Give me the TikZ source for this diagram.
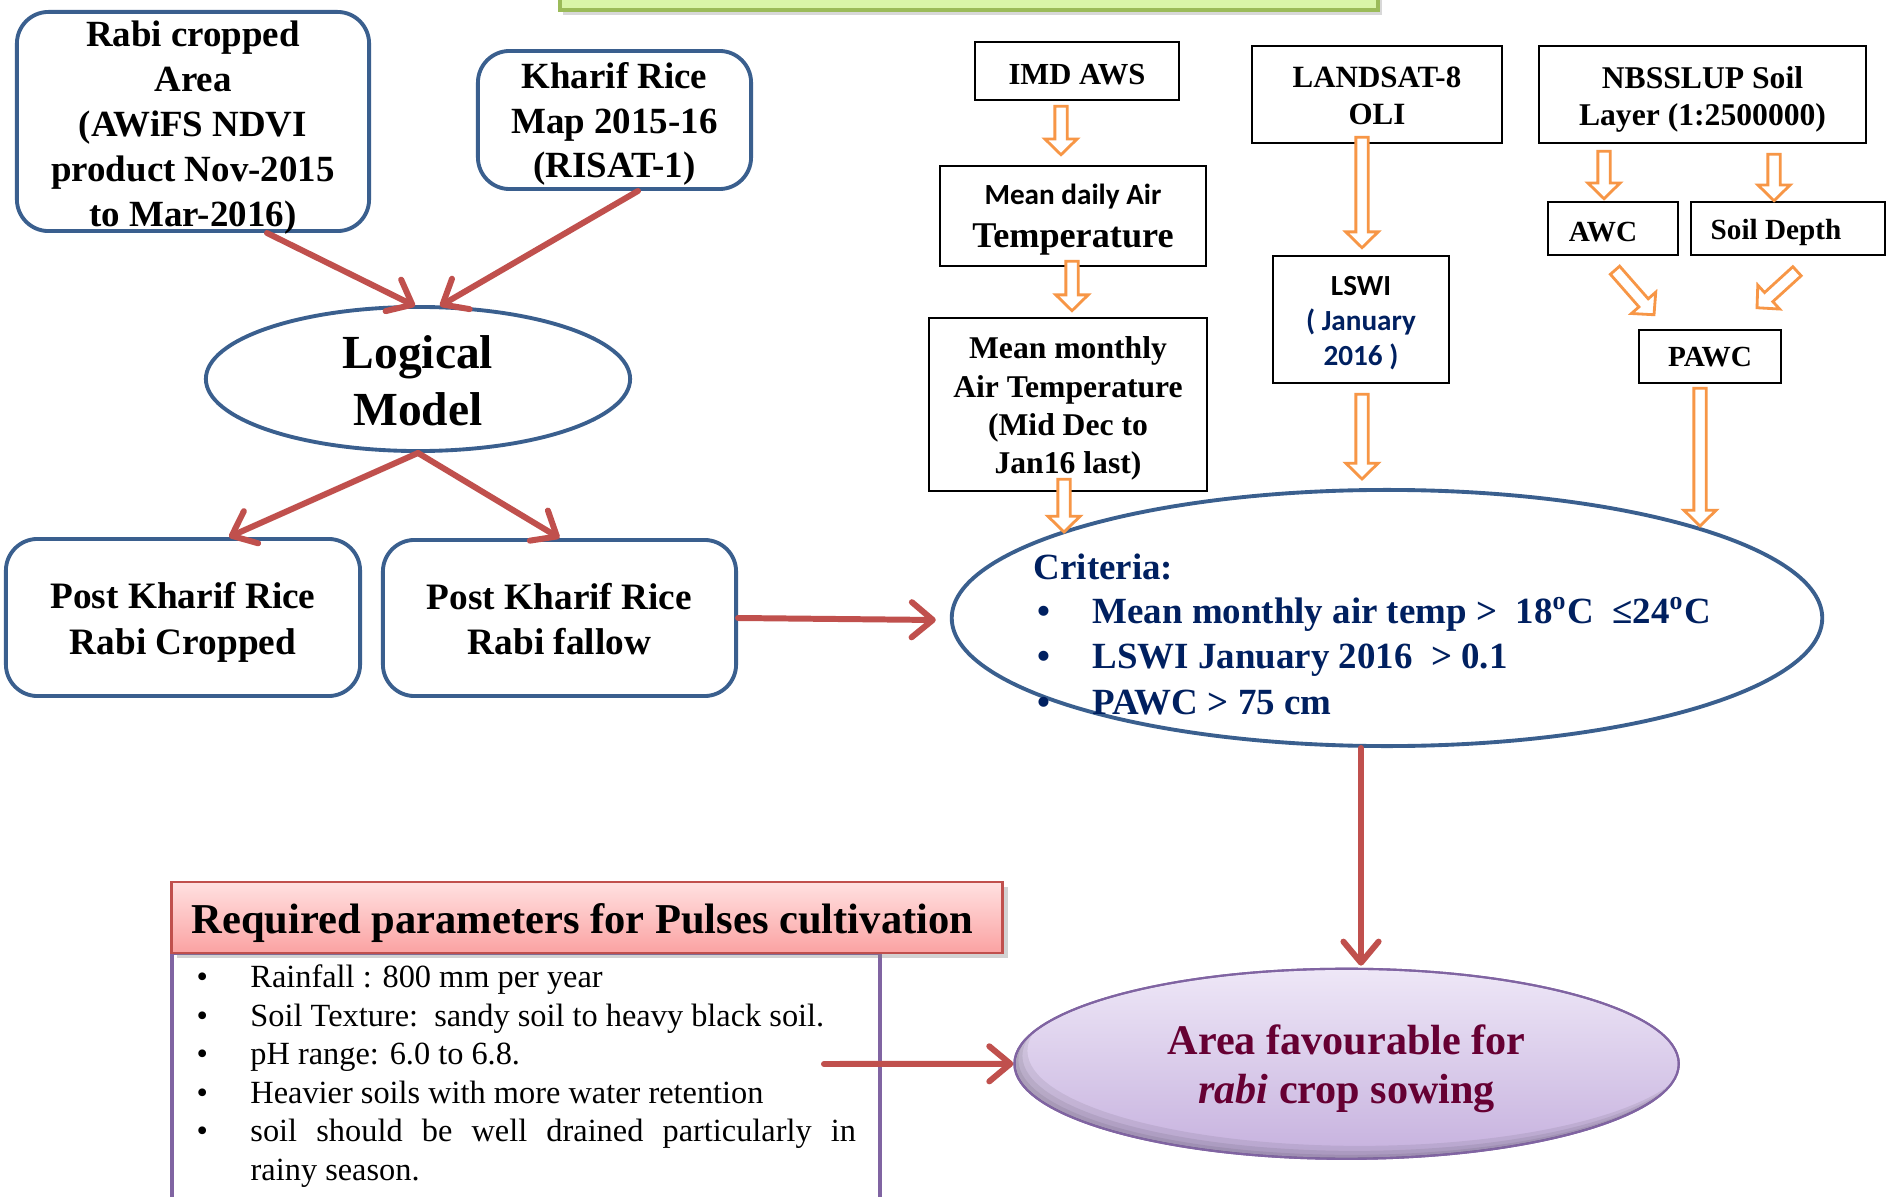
\documentclass[tikz,border=0pt]{standalone}
\usepackage{fontspec}
\setmainfont{Liberation Serif}
\newfontfamily\calfont{Carlito}
\usetikzlibrary{arrows.meta,calc,shapes.geometric,shadows}
\definecolor{bblue}{HTML}{3A5F8E}
\definecolor{rarrow}{HTML}{C0504D}
\definecolor{oarrow}{HTML}{F79646}
\definecolor{critblue}{HTML}{002060}
\definecolor{maroonc}{HTML}{660033}
\definecolor{purp}{HTML}{8064A2}
\definecolor{gfill}{HTML}{D9F5A8}
\definecolor{gdraw}{HTML}{9BBB59}
\definecolor{pinktop}{HTML}{FFE1E1}
\definecolor{pinkbot}{HTML}{FBA2A2}
\definecolor{lavtop}{HTML}{EEE7F7}
\definecolor{lavbot}{HTML}{C6B1DE}
\newcommand{\setfs}[2]{\fontsize{#1}{#2}\selectfont}
\begin{document}
\begin{tikzpicture}[x=0.01cm,y=-0.01cm,
  rbox/.style={draw=bblue, line width=1.1pt, rounded corners=9pt, rectangle, inner sep=0pt},
  sbox/.style={draw=black, line width=0.7pt, rectangle, inner sep=0pt},
  lbl/.style={align=center, inner sep=0pt},
  redarrow/.style={draw=rarrow, line width=1.7pt, line cap=round, -{Straight Barb[length=6pt,width=10pt,round]}},
  hollow/.style={draw=oarrow, fill=white, line width=0.8pt, line join=miter,
    to path={let \p1=($(\tikztotarget)!4.5pt!(\tikztostart)$) in
      ($(\tikztostart)!1.75pt!90:(\tikztotarget)$) -- ($(\p1)!1.75pt!-90:(\tikztostart)$)
      -- ($(\p1)!4.6pt!-90:(\tikztostart)$) -- (\tikztotarget)
      -- ($(\p1)!4.6pt!90:(\tikztostart)$) -- ($(\p1)!1.75pt!90:(\tikztostart)$)
      -- ($(\tikztostart)!1.75pt!-90:(\tikztotarget)$) -- cycle}},
  txt/.style={inner sep=0pt, anchor=base west},
]
\useasboundingbox (0,0) rectangle (1887,1197);
\fill[white] (0,0) rectangle (1887,1197);
\clip (0,0) rectangle (1887,1197);

% top green box (cut by page edge)
\node[draw=gdraw, fill=gfill, line width=1pt, minimum width=8.18cm, minimum height=0.5cm,
  drop shadow={opacity=0.3, shadow xshift=1pt, shadow yshift=-1.5pt}] (topbox) at (969,-15) {};

% left side
\node[rbox, minimum width=3.52cm, minimum height=2.19cm] (rabi) at (193,121.5) {};
\node[lbl, font=\bfseries\setfs{10.5}{12.8}] (rabi-t) at ($(rabi)+(0,6)$)
  {Rabi cropped\\Area\\(AWiFS NDVI\\product Nov-2015\\to Mar-2016)};
\node[rbox, minimum width=2.73cm, minimum height=1.38cm] (kharif) at (614.5,120) {};
\node[lbl, font=\bfseries\setfs{10.5}{12.6}] (kharif-t) at ($(kharif)+(0,4)$)
  {Kharif Rice\\Map 2015-16\\(RISAT-1)};
\node[ellipse, draw=bblue, line width=1.1pt, inner sep=0pt, minimum width=4.24cm, minimum height=1.44cm] (logical) at (418,379) {};
\node[lbl, font=\bfseries\setfs{13.5}{16.2}] (logical-t) at ($(logical)+(0,2)$) {Logical\\Model};
\node[rbox, minimum width=3.54cm, minimum height=1.57cm] (prc) at (183,617.5) {};
\node[lbl, font=\bfseries\setfs{10.6}{13}] (prc-t) at ($(prc)+(0,5)$) {Post Kharif Rice\\Rabi Cropped};
\node[rbox, minimum width=3.53cm, minimum height=1.56cm] (prf) at (559.5,618) {};
\node[lbl, font=\bfseries\setfs{10.6}{13}] (prf-t) at ($(prf)+(0,1)$) {Post Kharif Rice\\Rabi fallow};

% right side boxes
\node[sbox, minimum width=2.04cm, minimum height=0.58cm] (imd) at (1077,71) {};
\node[lbl, font=\bfseries\setfs{8.7}{10.5}] (imd-t) at ($(imd)+(0,3.6)$) {IMD AWS};
\node[sbox, minimum width=2.66cm, minimum height=1.0cm] (mda) at (1073,216) {};
\node[lbl, font=\bfseries\setfs{10.3}{12.5}] (mda-t) at ($(mda)+(0,3.6)$)
  {{\calfont\setfs{8.3}{12.5}Mean daily Air}\\Temperature};
\node[sbox, minimum width=2.78cm, minimum height=1.73cm] (mma) at (1068,404.5) {};
\node[lbl, font=\bfseries\setfs{9}{10.9}] (mma-t) at ($(mma)+(0,4.2)$)
  {Mean monthly\\Air Temperature\\(Mid Dec to\\Jan16 last)};
\node[sbox, minimum width=2.5cm, minimum height=0.97cm] (landsat) at (1377,94.5) {};
\node[lbl, font=\bfseries\setfs{8.8}{10.5}] (landsat-t) at ($(landsat)+(0,1.5)$) {LANDSAT-8\\OLI};
\node[sbox, minimum width=1.76cm, minimum height=1.27cm] (lswi) at (1361,319.5) {};
\node[lbl, font=\calfont\bfseries\setfs{8.3}{10}] (lswi-t) at ($(lswi)+(0,3.6)$)
  {LSWI\\\textcolor{critblue}{( January}\\\textcolor{critblue}{2016 )}};
\node[sbox, minimum width=3.27cm, minimum height=0.97cm] (nbss) at (1702.5,94.5) {};
\node[lbl, font=\bfseries\setfs{9}{10.5}] (nbss-t) at ($(nbss)+(0,5)$) {NBSSLUP Soil\\Layer (1:2500000)};
\node[sbox, minimum width=1.3cm, minimum height=0.53cm] (awc) at (1613,228.5) {};
\node[lbl, font=\bfseries\setfs{8.3}{10}] (awc-t) at ($(awc)+(-10,3.6)$) {AWC};
\node[sbox, minimum width=1.94cm, minimum height=0.53cm] (sd) at (1788,228.5) {};
\node[lbl, font=\bfseries\setfs{8.3}{10}] (sd-t) at ($(sd)+(-12,3.6)$) {Soil Depth};
\node[sbox, minimum width=1.42cm, minimum height=0.53cm] (pawc) at (1710,356.5) {};
\node[lbl, font=\bfseries\setfs{8.3}{10}] (pawc-t) at ($(pawc)+(0,1)$) {PAWC};

% criteria ellipse
\node[ellipse, draw=bblue, line width=1.1pt, inner sep=0pt, minimum width=8.7cm, minimum height=2.56cm] (crit) at (1387,618) {};
\begin{scope}[every node/.style={txt, text=critblue, font=\bfseries\setfs{10.5}{12.8}}]
\node (c0) at (1033,579) {Criteria:};
\node (c1) at (1037,623) {\makebox[15.6pt][l]{\textbullet}Mean monthly air temp >\ \ 18\textsuperscript{o}C\ \ ≤24\textsuperscript{o}C};
\node (c2) at (1037,668) {\makebox[15.6pt][l]{\textbullet}LSWI January 2016\ \ > 0.1};
\node (c3) at (1037,714) {\makebox[15.6pt][l]{\textbullet}PAWC > 75 cm};
\end{scope}

% pulses box
\node[draw=purp, line width=1.1pt, rectangle, inner sep=0pt, minimum width=7.08cm, minimum height=2.62cm] (body) at (526,1084) {};
\node[draw=rarrow, line width=0.8pt, rectangle, inner sep=0pt, minimum width=8.3cm, minimum height=0.71cm,
  top color=pinktop, bottom color=pinkbot,
  drop shadow={opacity=0.35, shadow xshift=1.5pt, shadow yshift=-1.5pt}] (header) at (587,917.5) {};
\node[lbl, font=\bfseries\setfs{12.1}{14}] (header-t) at ($(header)+(-4.5,6)$) {Required parameters for Pulses cultivation};
\begin{scope}[every node/.style={txt, font=\setfs{9.2}{10.9}}]
\node (p1) at (196,987) {\makebox[15.3pt][l]{\textbullet}Rainfall : 800 mm per year};
\node (p2) at (196,1026) {\makebox[15.3pt][l]{\textbullet}Soil Texture:\ \ sandy soil to heavy black soil.};
\node (p3) at (196,1064) {\makebox[15.3pt][l]{\textbullet}pH range: 6.0 to 6.8.};
\node (p4) at (196,1103) {\makebox[15.3pt][l]{\textbullet}Heavier soils with more water retention};
\node (p5) at (196,1141) {\makebox[15.3pt][l]{\textbullet}\makebox[172.2pt][s]{soil should be well drained particularly in}};
\node (p6) at (250,1180) {rainy season.};
\end{scope}

% final ellipse with inner shade
\node[ellipse, draw=purp, line width=0.6pt, inner sep=0pt, minimum width=6.64cm, minimum height=1.9cm,
  top color=lavtop, bottom color=lavbot] (area) at (1346.6,1063.8) {};
\begin{scope}
  \clip (area.center) ellipse (3.32cm and 0.95cm);
  \foreach \s in {4,8,13}
    \fill[black, opacity=0.07, even odd rule] (area.center) ellipse (3.32cm and 0.95cm)
      ($(area.center)+(\s,-\s)$) ellipse (3.32cm and 0.95cm);
\end{scope}
\draw[purp, line width=0.6pt] (area.center) ellipse (3.32cm and 0.95cm);
\node[lbl, text=maroonc, font=\bfseries\setfs{12}{14.2}] (area-t) at ($(area)+(0,5)$)
  {Area favourable for\\\textit{rabi} crop sowing};

% red arrows
\draw[redarrow] ($(rabi.south)+(74,0)$) -- ($(logical.north)+(-3,1)$);
\draw[redarrow] ($(kharif.south)+(23.5,0)$) -- ($(logical.north)+(22,1)$);
\draw[redarrow] (logical.south) -- ($(prc.north)+(46,0)$);
\draw[redarrow] (logical.south) -- (prf.north);
\draw[redarrow] (prf.east) -- ($(crit.west)+(-14,2)$);
\draw[redarrow] ($(crit.south)+(-26,0)$) -- ($(crit.south |- area.north)+(-26,-2)$);
\coordinate (ptail) at (824,1064);
\draw[redarrow] (ptail) -- (area.west);

% orange hollow arrows
\draw[hollow] ($(imd.south)+(-16,5)$) to ($(mda.north)+(-12,-10)$);
\draw[hollow] ($(mda.south)+(-1,-6)$) to ($(mma.north)+(4,-6)$);
\draw[hollow] ($(mma.south)+(-4,-13)$) to ($(crit.center)+(-323,-86)$);
\draw[hollow] ($(landsat.south)+(-15,-7)$) to ($(lswi.north)+(1,-7)$);
\draw[hollow] ($(lswi.south)+(1,10)$) to ($(crit.north)+(-25,-9)$);
\draw[hollow] ($(awc.north |- nbss.south)+(-9,7)$) to ($(awc.north)+(-9,-2)$);
\draw[hollow] ($(sd.north |- nbss.south)+(-14,10)$) to ($(sd.north)+(-14,0)$);
\draw[hollow] ($(awc.south)+(2,14)$) to ($(pawc.north)+(-56,-14)$);
\draw[hollow] ($(sd.south)+(9,15)$) to ($(pawc.north)+(47,-21)$);
\draw[hollow] ($(pawc.south)+(-10,4)$) to ($(crit.center)+(313,-92)$);
\end{tikzpicture}
\end{document}
